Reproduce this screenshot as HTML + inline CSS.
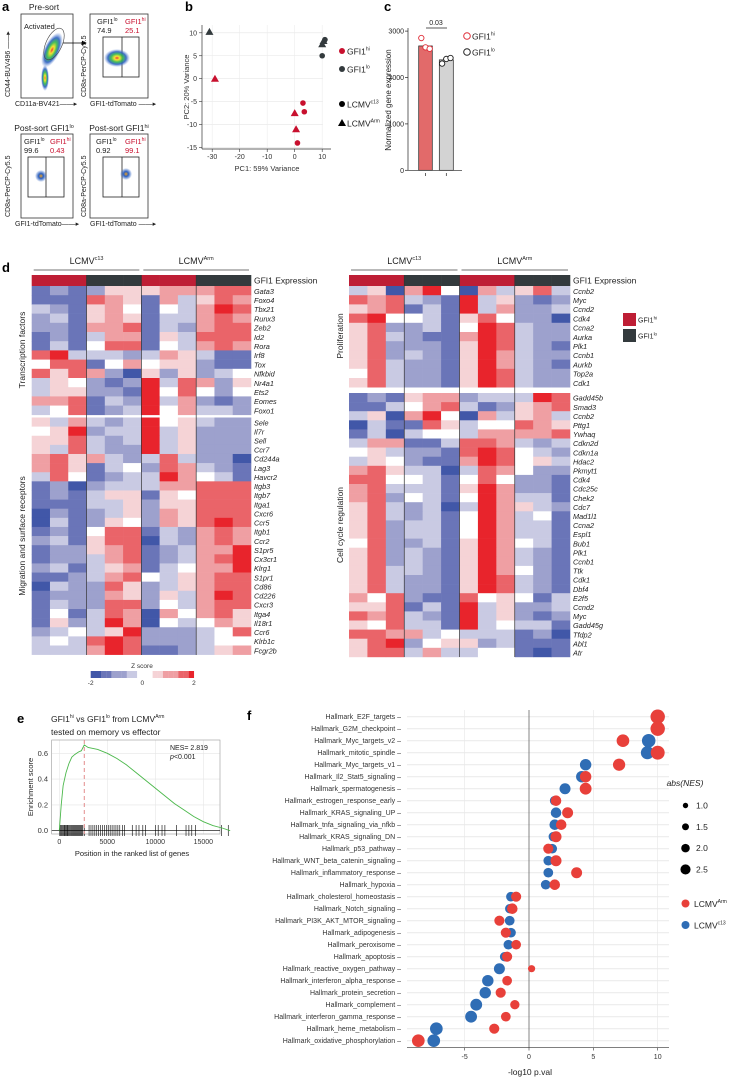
<!DOCTYPE html>
<html><head><meta charset="utf-8">
<style>
html,body{margin:0;padding:0;background:#fff;}
svg{display:block;font-family:"Liberation Sans",Arial,sans-serif;}
</style></head>
<body>
<svg id="fig" width="738" height="1079" viewBox="0 0 738 1079" xmlns="http://www.w3.org/2000/svg">
<defs>
<radialGradient id="dens" cx="50%" cy="50%" r="50%">
<stop offset="0" stop-color="#e8202a"/><stop offset="0.2" stop-color="#f5e21a"/><stop offset="0.45" stop-color="#2fb54a"/><stop offset="0.7" stop-color="#2a5fc0"/><stop offset="1" stop-color="#6a8fd8" stop-opacity="0"/>
</radialGradient>
<radialGradient id="densB" cx="50%" cy="50%" r="50%">
<stop offset="0" stop-color="#f0a020"/><stop offset="0.4" stop-color="#2a5fc0"/><stop offset="1" stop-color="#2a5fc0" stop-opacity="0"/>
</radialGradient>
<marker id="arr" markerWidth="6" markerHeight="6" refX="5" refY="3" orient="auto"><path d="M0,0 L6,3 L0,6 z" fill="#000"/></marker>
</defs>

<text x="2" y="11" font-size="13" font-weight="bold">a</text>
<text x="185" y="11" font-size="13" font-weight="bold">b</text>
<text x="384" y="11" font-size="13" font-weight="bold">c</text>
<text x="2" y="272" font-size="13" font-weight="bold">d</text>
<text x="17" y="723" font-size="13" font-weight="bold">e</text>
<text x="247" y="720" font-size="13" font-weight="bold">f</text>

<g font-size="7.5" fill="#222">
 <text x="44" y="10" text-anchor="middle" font-size="8.5">Pre-sort</text>
 <rect x="21" y="14" width="52" height="84" fill="#fff" stroke="#333" stroke-width="0.8"/>
 <ellipse cx="52" cy="50" rx="8" ry="19" fill="url(#dens)" transform="rotate(25 52 50)" opacity="0.9"/>
 <ellipse cx="45" cy="78" rx="4" ry="13" fill="url(#dens)" opacity="0.9"/>
 <ellipse cx="54" cy="44" rx="8" ry="17" fill="none" stroke="#444" stroke-width="0.6" transform="rotate(25 54 44)"/>
 <text x="24" y="29">Activated</text>
 <line x1="63" y1="43" x2="86" y2="43" stroke="#000" stroke-width="0.8" marker-end="url(#arr)"/>
 <text x="15" y="106" font-size="7">CD11a-BV421——▸</text>
 <rect x="90" y="14" width="58" height="84" fill="#fff" stroke="#333" stroke-width="0.8"/>
 <rect x="103" y="37" width="36" height="40" fill="none" stroke="#222" stroke-width="0.8"/>
 <line x1="122" y1="37" x2="122" y2="77" stroke="#222" stroke-width="0.8"/>
 <ellipse cx="117" cy="58" rx="13" ry="9" fill="url(#dens)" opacity="0.9"/>
 <text x="97" y="24">GFI1<tspan font-size="5" dy="-3">lo</tspan></text><text x="97" y="33">74.9</text>
 <text x="125" y="24" fill="#c8102e">GFI1<tspan font-size="5" dy="-3">hi</tspan></text><text x="125" y="33" fill="#c8102e">25.1</text>
 <text x="90" y="106" font-size="7">GFI1-tdTomato ——▸</text>
 <text x="44" y="131" text-anchor="middle" font-size="8.5">Post-sort GFI1<tspan font-size="5.5" dy="-3">lo</tspan></text>
 <rect x="21" y="134" width="52" height="84" fill="#fff" stroke="#333" stroke-width="0.8"/>
 <rect x="28" y="157" width="36" height="40" fill="none" stroke="#222" stroke-width="0.8"/>
 <line x1="46" y1="157" x2="46" y2="197" stroke="#222" stroke-width="0.8"/>
 <ellipse cx="41" cy="176" rx="6" ry="6" fill="url(#densB)"/>
 <text x="24" y="144">GFI1<tspan font-size="5" dy="-3">lo</tspan></text><text x="24" y="153">99.6</text>
 <text x="50" y="144" fill="#c8102e">GFI1<tspan font-size="5" dy="-3">hi</tspan></text><text x="50" y="153" fill="#c8102e">0.43</text>
 <text x="15" y="226" font-size="7">GFI1-tdTomato——▸</text>
 <text x="119" y="131" text-anchor="middle" font-size="8.5">Post-sort GFI1<tspan font-size="5.5" dy="-3">hi</tspan></text>
 <rect x="90" y="134" width="58" height="84" fill="#fff" stroke="#333" stroke-width="0.8"/>
 <rect x="103" y="157" width="36" height="40" fill="none" stroke="#222" stroke-width="0.8"/>
 <line x1="122" y1="157" x2="122" y2="197" stroke="#222" stroke-width="0.8"/>
 <ellipse cx="126" cy="174" rx="6" ry="6" fill="url(#densB)"/>
 <text x="96" y="144">GFI1<tspan font-size="5" dy="-3">lo</tspan></text><text x="96" y="153">0.92</text>
 <text x="125" y="144" fill="#c8102e">GFI1<tspan font-size="5" dy="-3">hi</tspan></text><text x="125" y="153" fill="#c8102e">99.1</text>
 <text x="90" y="226" font-size="7">GFI1-tdTomato ——▸</text>
 <text transform="translate(10,97) rotate(-90)" font-size="7">CD44-BUV496 ——▸</text>
 <text transform="translate(86,97) rotate(-90)" font-size="7">CD8a-PerCP-Cy5.5</text>
 <text transform="translate(10,217) rotate(-90)" font-size="7">CD8a-PerCP-Cy5.5</text>
 <text transform="translate(86,217) rotate(-90)" font-size="7">CD8a-PerCP-Cy5.5</text>
</g>

<g id="pcaG"></g>
<g id="barG"></g>
<g id="heatG"></g>
<g id="gseaG"></g>
<g id="dotG"></g>
</svg>

<script>
const pcaPC1 = [-31, -29, 0, 0.5, 3, 3.5, 1, 10, 11, 10, 10.5];
const pcaPC2 = [10.2, 0, -7.5, -11, -5.3, -7.2, -14, 5, 8.5, 7.5, 8.2];
const pcaGroup = ['lo','hi','hi','hi','hi','hi','hi','lo','lo','lo','lo'];
const pcaShape = ['tri','tri','tri','tri','circ','circ','circ','circ','circ','tri','tri'];
const pcaXTicks = [-30,-20,-10,0,10];
const pcaYTicks = [10,5,0,-5,-10,-15];

const barGroups = ['GFI1hi','GFI1lo'];
const barMeans = [2680, 2380];
const barPoints = [[2850, 2650, 2620],[2300, 2400, 2420]];
const barYTicks = [0,1000,2000,3000];

const leftGenes1 = ['Gata3','Foxo4','Tbx21','Runx3','Zeb2','Id2','Rora','Irf8','Tox','Nfkbid','Nr4a1','Ets2','Eomes','Foxo1'];
const leftVals1 = ['121255566677','111765163576','321564143687','231565133676','221667132677','121366153777','131477143676','783332365311','477146455211','757620525234','354212837625','355221847424','667132836212','347123846332'];
const leftGenes2 = ['Sele','Il7r','Sell','Ccr7','Cd244a','Lag3','Havcr2','Itgb3','Itgb7','Itga1','Cxcr6','Ccr5','Itgb1','Ccr2','S1pr5','Cx3cr1','Klrg1','S1pr1','Cd86','Cd226','Cxcr3','Itga4','Il18r1','Ccr6','Klrb1c','Fcgr2b'];
const leftVals2 = ['536323845322','458233835222','557323835222','537322835222','675632373220','675134276321','374123386431','120233366777','121355154777','111335255777','021235265777','031254265787','121477132676','231577032676','122567123668','122367123678','231356134668','112367435677','032275235677','122265253687','132277243677','141376064675','152386043465','234358222347','343787222344','333687112356'];
const rightGenes1 = ['Ccnb2','Myc','Ccnd2','Cdk4','Ccna2','Aurka','Plk1','Ccnb1','Aurkb','Top2a','Cdk1'];
const rightVals1 = ['350684063573','767321835212','567131836223','784431574220','572231487322','573211687322','572221587321','572321586322','573221586321','473221587322','573221587322'];
const rightGenes2 = ['Gadd45b','Smad3','Ccnb2','Pttg1','Ywhaq','Cdkn2d','Cdkn1a','Hdac2','Pkmyt1','Cdk4','Cdc25c','Chek2','Cdc7','Mad1l1','Ccna2','Espl1','Bub1','Plk1','Ccnb1','Ttk','Cdk1','Dbf4','E2f5','Ccnd2','Myc','Gadd45g','Tfdp2','Abl1','Atr'];
const rightVals2 = ['121566233387','113467312567','350684063563','031175344765','130344366667','366113776323','453221787432','354211687453','675330376422','774431474221','673331586221','672431486331','573230386532','573231486341','572331486331','572331486331','472231586431','572321586321','572321586321','573321586421','573221587321','573221587321','647211745413','557131835223','767321835212','547331834331','776634333120','578245523111','577363344101'];
const zTicks = [-2,0,2];

const gseaRank = [0,200,400,700,1000,1300,1600,2000,2300,2600,3000,4000,5000,6000,7000,8000,9000,10000,11000,12000,13000,14000,15000,16000,17000,17800];
const gseaES = [0,0.2,0.35,0.45,0.52,0.57,0.59,0.61,0.62,0.665,0.645,0.63,0.60,0.56,0.51,0.45,0.39,0.33,0.27,0.21,0.16,0.11,0.07,0.04,0.02,0];
const gseaHits = [50,150,250,350,450,520,600,700,800,880,950,1050,1150,1250,1350,1450,1550,1650,1750,1850,1950,2050,2150,2250,2350,2450,2600,3100,3300,3500,3700,3900,4100,4300,4500,4700,4900,5100,5300,5500,5700,5900,6100,6300,6600,6800,7600,8000,8300,8700,9000,10000,10300,10700,11000,12200,13200,13500,13800,14200,16900,17600];
const gseaXTicks = [0,5000,10000,15000];
const gseaYTicks = [0,0.2,0.4,0.6];

const hallmarks = ['Hallmark_E2F_targets','Hallmark_G2M_checkpoint','Hallmark_Myc_targets_v2','Hallmark_mitotic_spindle','Hallmark_Myc_targets_v1','Hallmark_Il2_Stat5_signaling','Hallmark_spermatogenesis','Hallmark_estrogen_response_early','Hallmark_KRAS_signaling_UP','Hallmark_tnfa_signaling_via_nfkb','Hallmark_KRAS_signaling_DN','Hallmark_p53_pathway','Hallmark_WNT_beta_catenin_signaling','Hallmark_inflammatory_response','Hallmark_hypoxia','Hallmark_cholesterol_homeostasis','Hallmark_Notch_signaling','Hallmark_PI3K_AKT_MTOR_signaling','Hallmark_adipogenesis','Hallmark_peroxisome','Hallmark_apoptosis','Hallmark_reactive_oxygen_pathway','Hallmark_interferon_alpha_response','Hallmark_protein_secretion','Hallmark_complement','Hallmark_interferon_gamma_response','Hallmark_heme_metabolism','Hallmark_oxidative_phosphorylation'];
const c13Pval = [10,10,9.3,9.2,4.4,4.1,2.8,2.0,2.1,2.0,1.9,1.8,1.5,1.5,1.3,-1.4,-1.5,-1.5,-1.4,-1.6,-1.9,-2.3,-3.2,-3.4,-4.1,-4.5,-7.2,-7.4];
const c13NES = [2.6,2.6,2.5,2.4,2.0,2.0,1.9,1.6,1.8,1.8,1.6,1.6,1.6,1.6,1.6,1.6,1.5,1.6,1.6,1.6,1.5,1.9,2.0,2.0,2.1,2.1,2.3,2.3];
const armPval = [10,10,7.3,10,7.0,4.4,4.4,2.1,3.0,2.5,2.1,1.5,2.1,3.7,2.0,-1.0,-1.3,-2.3,-1.8,-1.0,-1.7,0.2,-1.7,-2.2,-1.1,-1.8,-2.7,-8.6];
const armNES = [2.7,2.7,2.3,2.6,2.2,2.0,2.1,1.8,1.9,1.8,1.9,1.7,1.9,1.9,1.8,1.7,1.8,1.7,1.7,1.6,1.7,1.0,1.6,1.7,1.5,1.6,1.7,2.3];
const nesLegend = [1.0,1.5,2.0,2.5];
const dotXTicks = [-5,0,5,10];

const NS='http://www.w3.org/2000/svg';
function mk(parent, tag, attrs, text){
  const e=document.createElementNS(NS,tag);
  for(const k in attrs) e.setAttribute(k,attrs[k]);
  if(text!==undefined) e.textContent=text;
  parent.appendChild(e); return e;
}

(function(){
  const g=document.getElementById('pcaG');
  const xs=v=>294.7+v*2.75, ys=v=>78.7-v*4.59;
  pcaYTicks.forEach(t=>{
    const l=mk(g,'line',{x1:202,x2:323,y1:ys(t),y2:ys(t),stroke:'#e6e6e6','stroke-width':0.6});
     
    const tx=mk(g,'text',{x:197,y:ys(t)+2.5,'font-size':7,'text-anchor':'end',fill:'#333'},String(t));
     
    mk(g,'line',{x1:199,x2:202,y1:ys(t),y2:ys(t),stroke:'#333','stroke-width':0.6});
  });
  pcaXTicks.forEach(t=>{
    const l=mk(g,'line',{x1:xs(t),x2:xs(t),y1:25,y2:149,stroke:'#ececec','stroke-width':0.6});
     
    const tx=mk(g,'text',{x:xs(t),y:159,'font-size':7,'text-anchor':'middle',fill:'#333'},String(t));
     
    mk(g,'line',{x1:xs(t),x2:xs(t),y1:149,y2:152,stroke:'#333','stroke-width':0.6});
  });
  mk(g,'line',{x1:202,x2:202,y1:25,y2:149,stroke:'#333','stroke-width':0.7});
  mk(g,'line',{x1:202,x2:331,y1:149,y2:149,stroke:'#333','stroke-width':0.7});
  pcaPC1.forEach((v,i)=>{
    const c=pcaGroup[i]==='hi'?'#c8102e':'#333a3d';
    const x=xs(v), y=ys(pcaPC2[i]);
    let e;
    if(pcaShape[i]==='tri') e=mk(g,'path',{d:`M${x},${y-4}L${x+4},${y+3}L${x-4},${y+3}Z`,fill:c});
    else e=mk(g,'circle',{cx:x,cy:y,r:2.8,fill:c});
     
  });
  const t1=mk(g,'text',{x:267,y:171,'font-size':7.5,'text-anchor':'middle',fill:'#333'},'PC1: 59% Variance');
   
  const t2=mk(g,'text',{transform:'translate(189,87) rotate(-90)','font-size':7.5,'text-anchor':'middle',fill:'#333'},'PC2: 20% Variance');
   
  const leg=[['circ','#c8102e','GFI1','hi',51],['circ','#333a3d','GFI1','lo',69],['circ','#000','LCMV','c13',104],['tri','#000','LCMV','Arm',123]];
  leg.forEach(L=>{
    const x=342,y=L[4];
    if(L[0]==='tri') mk(g,'path',{d:`M${x},${y-4}L${x+4},${y+3}L${x-4},${y+3}Z`,fill:L[1]});
    else mk(g,'circle',{cx:x,cy:y,r:3,fill:L[1]});
    const t=mk(g,'text',{x:347,y:y+3.5,'font-size':8.5,fill:'#222'},L[2]);
    mk(t,'tspan',{'font-size':5,dy:-4},L[3]);
     
  });
})();

(function(){
  const g=document.getElementById('barG');
  const ys=v=>170.3-v*0.0464;
  const bx=[418.7,439.3], bw=[13.6,14];
  barMeans.forEach((m,i)=>{
    const r=mk(g,'rect',{x:bx[i],y:ys(m),width:bw[i],height:170.3-ys(m),fill:i===0?'#e26a6a':'#d3d3d3',stroke:'#222','stroke-width':0.7});
     
    mk(g,'line',{x1:bx[i]+bw[i]/2,x2:bx[i]+bw[i]/2,y1:176,y2:173,stroke:'#222','stroke-width':0.7});
    const off=[-3,0,3];
    barPoints[i].forEach((p,j)=>{
      const c=mk(g,'circle',{cx:bx[i]+bw[i]/2+off[j]*1.4,cy:ys(p),r:2.7,fill:'#fff',stroke:i===0?'#e0303a':'#222','stroke-width':0.9});
       
    });
  });
  mk(g,'line',{x1:408,x2:408,y1:28,y2:170.3,stroke:'#222','stroke-width':0.7});
  mk(g,'line',{x1:408,x2:462,y1:170.3,y2:170.3,stroke:'#222','stroke-width':0.7});
  barYTicks.forEach(t=>{
    mk(g,'line',{x1:405,x2:408,y1:ys(t),y2:ys(t),stroke:'#222','stroke-width':0.7});
    const tx=mk(g,'text',{x:404,y:ys(t)+2.5,'font-size':7,'text-anchor':'end',fill:'#222'},String(t));
     
  });
  mk(g,'line',{x1:426,x2:447,y1:28,y2:28,stroke:'#222','stroke-width':0.7});
  mk(g,'text',{x:436,y:25,'font-size':7,'text-anchor':'middle',fill:'#222'},'0.03');
  const yt=mk(g,'text',{transform:'translate(391,100) rotate(-90)','font-size':8,'text-anchor':'middle',fill:'#222'},'Normalized gene expression');
   
  [['#e0303a','hi',36],['#222','lo',52]].forEach(L=>{
    mk(g,'circle',{cx:467,cy:L[2],r:3.3,fill:'#fff',stroke:L[0],'stroke-width':1});
    const t=mk(g,'text',{x:472,y:L[2]+3.5,'font-size':8.5,fill:'#222'},'GFI1');
    mk(t,'tspan',{'font-size':5,dy:-4},L[1]);
     
  });
})();

(function(){
  const g=document.getElementById('heatG');
  const pal=['#4157a8','#6a75b8','#9da1cd','#c9cae3','#ffffff','#f5d3d6','#ef9fa3','#ea6469','#e8242c'];
  function header(x0,w){
    const cw=w/12;
    [['c13',0],['Arm',6]].forEach(h=>{
      const cx=x0+(h[1]+3)*cw;
      const t=mk(g,'text',{x:cx,y:264,'font-size':9,'text-anchor':'middle',fill:'#222'},'LCMV');
      mk(t,'tspan',{'font-size':5.5,dy:-4},h[0]);
       
      mk(g,'line',{x1:x0+h[1]*cw+2,x2:x0+(h[1]+6)*cw-2,y1:270,y2:270,stroke:'#444','stroke-width':0.8});
    });
    for(let c=0;c<12;c++){
      const r=mk(g,'rect',{x:x0+c*cw,y:275,width:cw+0.3,height:11,fill:(c%6)<3?'#be1e35':'#333a3d'});
       
    }
    const t=mk(g,'text',{x:x0+w+3,y:283.5,'font-size':8.5,fill:'#222'},'GFI1 Expression');
     
  }
  function block(x0,w,y0,rh,genes,vals){
    const cw=w/12;
    vals.forEach((s,r)=>{
      for(let c=0;c<12;c++){
        const cell=mk(g,'rect',{x:x0+c*cw,y:y0+r*rh,width:cw+0.3,height:rh+0.3,fill:pal[+s[c]]});
         
      }
      const t=mk(g,'text',{x:x0+w+3,y:y0+r*rh+rh*0.85,'font-size':7.3,'font-style':'italic',fill:'#222'},genes[r]);
       
    });
    return vals.length*rh;
  }
  function seps(x0,w,y1,y2){const cw=w/12;[3,6,9].forEach(k=>mk(g,'line',{x1:x0+k*cw,x2:x0+k*cw,y1:y1,y2:y2,stroke:'#333','stroke-width':0.7}));}
  const L0=31.7,LW=219.3;
  header(L0,LW);
  block(L0,LW,286,9.2,leftGenes1,leftVals1);
  block(L0,LW,417.5,9.12,leftGenes2,leftVals2);
  seps(L0,LW,275,655);
  const R0=349,RW=221;
  header(R0,RW);
  block(R0,RW,286,9.2,rightGenes1,rightVals1);
  block(R0,RW,393,9.1,rightGenes2,rightVals2);
  seps(R0,RW,275,657);
  [['Transcription factors',25,350],['Migration and surface receptors',25,536],['Proliferation',343,336],['Cell cycle regulation',343,525]].forEach(a=>{
    const t=mk(g,'text',{transform:`translate(${a[1]},${a[2]}) rotate(-90)`,'font-size':8.5,'text-anchor':'middle',fill:'#222'},a[0]);
     
  });
  const zt=mk(g,'text',{x:142,y:668,'font-size':6.5,'text-anchor':'middle',fill:'#333'},'Z score');
   
  const zx=v=>142.3+v*25.8;
  for(let i=0;i<20;i++){
    const v=-2+i*0.2;
    const idx=Math.round((v+2)*2);
    mk(g,'rect',{x:zx(v),y:671,width:5.3,height:7,fill:pal[Math.min(8,idx)]});
  }
  zTicks.forEach(t=>{
    const tx=mk(g,'text',{x:zx(t),y:685,'font-size':6.5,'text-anchor':'middle',fill:'#333'},String(t));
     
  });
  [['#be1e35','hi',313],['#333a3d','lo',329]].forEach(L=>{
    mk(g,'rect',{x:623,y:L[2],width:13,height:13,fill:L[0]});
    const t=mk(g,'text',{x:638,y:L[2]+9.5,'font-size':7,fill:'#222'},'GFI1');
    mk(t,'tspan',{'font-size':4.5,dy:-3},L[1]);
     
  });
})();

(function(){
  const g=document.getElementById('gseaG');
  const xs=v=>59.3+v*0.0096, ys=v=>830.7-v*129;
  gseaXTicks.forEach(t=>{
    mk(g,'line',{x1:xs(t),x2:xs(t),y1:740,y2:834,stroke:'#e5e5e5','stroke-width':0.6});
    const tx=mk(g,'text',{x:xs(t),y:844,'font-size':7,'text-anchor':'middle',fill:'#333'},String(t));
     
  });
  gseaYTicks.forEach(t=>{
    mk(g,'line',{x1:51.7,x2:220,y1:ys(t),y2:ys(t),stroke:'#e5e5e5','stroke-width':0.6});
    const tx=mk(g,'text',{x:48,y:ys(t)+2.5,'font-size':7.5,'text-anchor':'end',fill:'#333'},t.toFixed(1));
     
  });
  mk(g,'rect',{x:51.7,y:740,width:168.3,height:94,fill:'none',stroke:'#999','stroke-width':0.6});
  gseaHits.forEach(h=>{
    const l=mk(g,'line',{x1:xs(h),x2:xs(h),y1:825,y2:836,stroke:'#000','stroke-width':0.6});
     
  });
  mk(g,'line',{x1:51.7,x2:220,y1:830.7,y2:830.7,stroke:'#000','stroke-width':0.7});
  mk(g,'line',{x1:xs(2600),x2:xs(2600),y1:740,y2:834,stroke:'#e08080','stroke-width':0.9,'stroke-dasharray':'4,3'});
  const pts=gseaRank.map((r,i)=>xs(r)+','+ys(gseaES[i])).join(' ');
  const pl=mk(g,'polyline',{points:pts,fill:'none',stroke:'#4cb84c','stroke-width':0.9});
   
  mk(g,'text',{x:170,y:750,'font-size':7,fill:'#222'},'NES= 2.819');
  const p=mk(g,'text',{x:170,y:759,'font-size':7,fill:'#222'});
  mk(p,'tspan',{'font-style':'italic'},'p'); mk(p,'tspan',{},'<0.001');
  const t1=mk(g,'text',{x:51,y:722,'font-size':8.5,fill:'#222'},'GFI1');
  mk(t1,'tspan',{'font-size':5,dy:-4},'hi'); mk(t1,'tspan',{dy:4},' vs GFI1');
  mk(t1,'tspan',{'font-size':5,dy:-4},'lo'); mk(t1,'tspan',{dy:4},' from LCMV');
  mk(t1,'tspan',{'font-size':5,dy:-4},'Arm');
   
  mk(g,'text',{x:51,y:735,'font-size':8.5,fill:'#222'},'tested on memory vs effector');
  const yt=mk(g,'text',{transform:'translate(33,787) rotate(-90)','font-size':7.5,'text-anchor':'middle',fill:'#222'},'Enrichment score');
   
  const xt=mk(g,'text',{x:132,y:856,'font-size':7.5,'text-anchor':'middle',fill:'#222'},'Position in the ranked list of genes');
   
})();

(function(){
  const g=document.getElementById('dotG');
  const xs=v=>529+v*12.87, ys=i=>716.7+i*12.0;
  const rs=n=>1.5+n*2.1;
  hallmarks.forEach((h,i)=>{
    mk(g,'line',{x1:407,x2:669,y1:ys(i),y2:ys(i),stroke:'#ececec','stroke-width':1.2});
  });
  dotXTicks.forEach(t=>{
    mk(g,'line',{x1:xs(t),x2:xs(t),y1:710,y2:1047.7,stroke:t===0?'#777':'#e6e6e6','stroke-width':t===0?0.9:0.6});
    mk(g,'line',{x1:xs(t),x2:xs(t),y1:1047.7,y2:1050.5,stroke:'#333','stroke-width':0.6});
    const tx=mk(g,'text',{x:xs(t),y:1059,'font-size':7,'text-anchor':'middle',fill:'#333'},String(t));
     
  });
  mk(g,'line',{x1:407,x2:669,y1:1047.7,y2:1047.7,stroke:'#333','stroke-width':0.6});
  hallmarks.forEach((h,i)=>{
    const t=mk(g,'text',{x:401,y:ys(i)+2.5,'font-size':7,'text-anchor':'end',fill:'#333'},h+' –');
     
    const b=mk(g,'circle',{cx:xs(c13Pval[i]),cy:ys(i),r:rs(c13NES[i]),fill:'#2f6db5'});
     
    const r=mk(g,'circle',{cx:xs(armPval[i]),cy:ys(i),r:rs(armNES[i]),fill:'#e8403a'});
     
  });
  const xt=mk(g,'text',{x:530,y:1075,'font-size':8.5,'text-anchor':'middle',fill:'#222'},'-log10 p.val');
   
  const lt=mk(g,'text',{x:685,y:786,'font-size':8.5,'font-style':'italic','text-anchor':'middle',fill:'#222'},'abs(NES)');
   
  nesLegend.forEach((n,i)=>{
    const y=805.5+i*21.3;
    mk(g,'circle',{cx:685.5,cy:y,r:rs(n)*0.75,fill:'#000'});
    const t=mk(g,'text',{x:696,y:y+3,'font-size':8.5,fill:'#222'},n.toFixed(1));
     
  });
  [['#e8403a','Arm',903.5],['#2f6db5','c13',925]].forEach(L=>{
    mk(g,'circle',{cx:685.5,cy:L[2],r:4,fill:L[0]});
    const t=mk(g,'text',{x:694,y:L[2]+3.5,'font-size':8.5,fill:'#222'},'LCMV');
    mk(t,'tspan',{'font-size':5,dy:-4},L[1]);
     
  });
})();
</script>
</body></html>
